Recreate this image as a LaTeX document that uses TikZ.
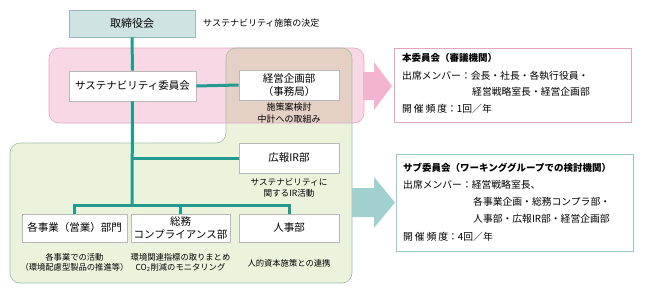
\documentclass[tikz,border=0pt]{standalone}
\usepackage{fontspec}
\setmainfont{Noto Sans CJK JP}
\usetikzlibrary{positioning}
\definecolor{boardfill}{RGB}{207,228,226}
\definecolor{boarddraw}{RGB}{150,185,185}
\definecolor{pinkfill}{RGB}{249,216,230}
\definecolor{pinkdraw}{RGB}{228,166,196}
\definecolor{greenfill}{RGB}{236,243,220}
\definecolor{greendraw}{RGB}{160,190,165}
\definecolor{overlapfill}{RGB}{228,208,196}
\definecolor{tealline}{RGB}{34,154,144}
\definecolor{pinkarrow}{RGB}{242,180,207}
\definecolor{tealarrow}{RGB}{160,208,208}
\definecolor{boxgray}{RGB}{185,185,185}
\definecolor{tealdraw}{RGB}{150,200,200}

\tikzset{
  box/.style={draw=boxgray, fill=white, line width=0.6pt, inner sep=0pt, align=center,
    minimum height=30pt, font=\fontsize{10.5}{13}\selectfont},
  note/.style={inner sep=0pt, align=center, font=\fontsize{8.3}{10.5}\selectfont},
  info/.style={anchor=west, inner sep=0pt, font=\fontsize{9.8}{12}\selectfont},
  infotitle/.style={info, font=\fontsize{9.5}{12}\selectfont\bfseries},
  link/.style={draw=tealline, line width=3pt},
}

\begin{document}
\begin{tikzpicture}[x=1pt,y=-1pt]
  \useasboundingbox (0,0) rectangle (645,295);
  \def\rr{10pt}

%regions:
  \fill[pinkfill, rounded corners=\rr] (49,48) rectangle (364,123);
  \fill[greenfill, rounded corners=\rr] (226,48) -- (352,48) -- (352,283) -- (10,283) -- (10,143) -- (226,143) -- cycle;
  \begin{scope}
    \clip[rounded corners=\rr] (49,48) rectangle (364,123);
    \fill[overlapfill, rounded corners=\rr] (226,48) -- (352,48) -- (352,283) -- (10,283) -- (10,143) -- (226,143) -- cycle;
  \end{scope}
  \draw[pinkdraw, line width=0.6pt, rounded corners=\rr] (49,48) rectangle (364,123);
  \draw[greendraw, line width=0.6pt, rounded corners=\rr] (226,48) -- (352,48) -- (352,283) -- (10,283) -- (10,143) -- (226,143) -- cycle;

%arrows:
  \fill[pinkarrow] (363,72) -- (374,72) -- (374,62) -- (392,86) -- (374,110) -- (374,100) -- (363,100) -- cycle;
  \fill[tealarrow] (352,188) -- (374,188) -- (374,177) -- (395,202.5) -- (374,228) -- (374,217) -- (352,217) -- cycle;

%boxes:
  \node[box, fill=boardfill, draw=boarddraw, minimum width=126pt, minimum height=27pt,
    font=\fontsize{11}{13}\selectfont] (board) at (132,23.5) {取締役会};
  \node[anchor=west, inner sep=0pt, font=\fontsize{9}{11}\selectfont] (boardnote) at (203,23) {サステナビリティ施策の決定};

  \node[box, minimum width=127pt] (suscom) at (132.5,86) {サステナビリティ委員会};
  \node[box, minimum width=100pt] (planning) at (289,85) {経営企画部\\（事務局）};
  \node[note, font=\fontsize{9}{12}\selectfont] (planningnote) at (289,113) {施策案検討\\中計への取組み};

  \node[box, minimum width=100pt] (ir) at (289,158) {広報IR部};
  \node[note, font=\fontsize{8.6}{10.5}\selectfont] (irnote) at (289,188) {サステナビリティに\\関するIR活動};

  \node[box, minimum width=105pt, minimum height=28pt] (biz) at (74.5,228) {各事業（営業）部門};
  \node[box, minimum width=99pt, minimum height=28pt] (ga) at (180.5,228) {総務\\コンプライアンス部};
  \node[box, minimum width=100pt, minimum height=28pt] (hr) at (289,228) {人事部};

  \node[note] (biznote) at (74.5,262.5) {各事業での活動\\（環境配慮型製品の推進等）};
  \node[note] (ganote) at (180.5,262.5) {環境関連指標の取りまとめ\\CO\textsubscript{2}削減のモニタリング};
  \node[note] (hrnote) at (289,263) {人的資本施策との連携};

%links:
  \coordinate (hub) at (132,205);
  \coordinate (irjoint) at (132,158);
  \draw[link] (board.south) -- (suscom.north);
  \draw[link] (suscom.east) -- (planning.west);
  \draw[link] (suscom.south) -- (hub);
  \draw[link] (irjoint) -- (ir.west);
  \draw[link] (biz.north) |- (hub) -| (hr.north);
  \draw[link] (ga.north) -- (ga.north |- hub);

%info boxes:
  \node[draw=pinkdraw, fill=white, line width=0.6pt, minimum width=237pt, minimum height=74pt, inner sep=0pt] (maininfo) at (512.5,85) {};
  \node[infotitle] (maintitle) at (402,58) {本委員会（審議機関）};
  \node[info] (mainmembers) at (402,76) {出席メンバー：会長・社長・各執行役員・};
  \node[info] (mainmembers2) at (472,92) {経営戦略室長・経営企画部};
  \node[info] (mainfreq) at (402,109) {\makebox[45pt][s]{開\hfill 催\hfill 頻\hfill 度}：1回／年};

  \node[draw=tealdraw, fill=white, line width=0.6pt, minimum width=237pt, minimum height=97pt, inner sep=0pt] (subinfo) at (514.5,202.5) {};
  \node[infotitle] (subtitle) at (403,168) {サブ委員会（ワーキンググループでの検討機関）};
  \node[info] (submembers) at (403,185) {出席メンバー：経営戦略室長、};
  \node[info] (submembers2) at (473,202) {各事業企画・総務コンプラ部・};
  \node[info] (submembers3) at (473,219) {人事部・広報IR部・経営企画部};
  \node[info] (subfreq) at (403,237) {\makebox[45pt][s]{開\hfill 催\hfill 頻\hfill 度}：4回／年};
\end{tikzpicture}
\end{document}
